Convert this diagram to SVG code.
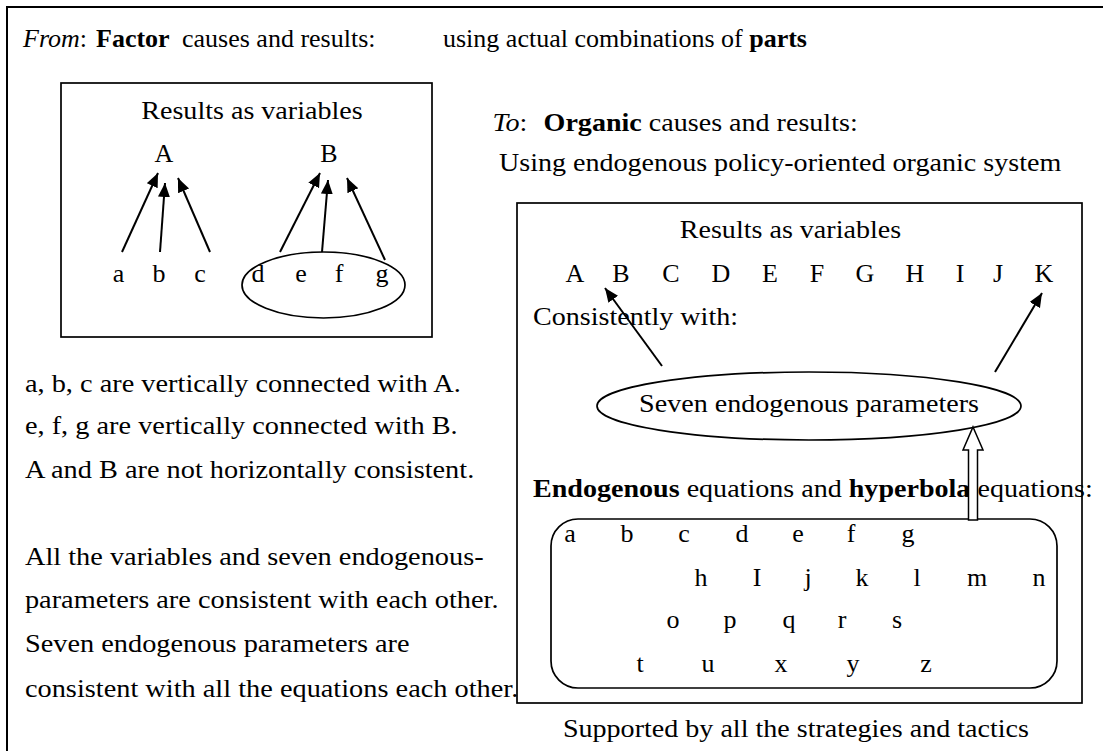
<svg xmlns="http://www.w3.org/2000/svg" width="1103" height="751" viewBox="0 0 1103 751">
<style>
text{font-family:"Liberation Serif","Times New Roman",serif;font-size:26px;fill:#000;white-space:pre}
.s{transform:scale(1.08,1)}
.s9{transform:scale(1.09,1)}
.m{text-anchor:middle}
.b{font-weight:bold}
.i{font-style:italic}
.box{fill:none;stroke:#000;stroke-width:1.7}
.ln{fill:none;stroke:#000;stroke-width:2}
</style>
<defs>
<marker id="ah" markerUnits="userSpaceOnUse" markerWidth="15" markerHeight="13" refX="14" refY="6" orient="auto"><path d="M0,0 L14,6 L0,12 Z" fill="#000"/></marker>
</defs>
<rect width="1103" height="751" fill="#fff"/>
<g id="frame"><path d="M7 751 V7 H1103" fill="none" stroke="#000" stroke-width="2"/></g>
<g id="title"><text y="47"><tspan class="i" x="23">From</tspan>: <tspan class="b" x="96">Factor</tspan><tspan x="182">causes and results:</tspan><tspan x="443">using actual combinations of </tspan><tspan class="b">parts</tspan></text></g>
<g id="factor-box">
<rect class="box" x="61" y="83" width="371" height="254"/>
<text class="s m" x="233.3" y="119">Results as variables</text>
<text class="m" x="164" y="162">A</text>
<text class="m" x="329" y="162">B</text>
<text class="m" x="118.5 159 200 258 301 339 382" y="282">abcdefg</text>
<ellipse class="box" cx="323.5" cy="285" rx="81.5" ry="33"/>
</g>
<g id="left-notes">
<text class="s9" x="22.9" y="392">a, b, c are vertically connected with A.</text>
<text class="s9" x="22.9" y="434">e, f, g are vertically connected with B.</text>
<text class="s9" x="22.9" y="478">A and B are not horizontally consistent.</text>
<text class="s9" x="22.9" y="565">All the variables and seven endogenous-</text>
<text class="s9" x="22.9" y="608">parameters are consistent with each other.</text>
<text class="s9" x="22.9" y="652">Seven endogenous parameters are</text>
<text class="s9" x="22.9" y="697">consistent with all the equations each other.</text>
</g>
<g id="to-header">
<text class="s" y="131"><tspan class="i" x="456">To</tspan>: <tspan class="b" x="503.3">Organic</tspan> causes and results:</text>
<text class="s" x="462" y="171">Using endogenous policy-oriented organic system</text>
</g>
<g id="organic-box">
<rect class="box" x="517" y="203" width="565" height="500"/>
<text class="s m" x="731.9" y="238">Results as variables</text>
<text class="m" x="575 621 671 721 770 817 865 915 960 998 1044" y="282">ABCDEFGHIJK</text>
<text class="s" x="493.5" y="325">Consistently with:</text>
</g>
<g id="parameters">
<ellipse class="box" cx="809" cy="406" rx="212" ry="34"/>
<text class="s m" x="749.1" y="412">Seven endogenous parameters</text>
</g>
<g id="equations">
<text class="s" x="493.5" y="497"><tspan class="b">Endogenous</tspan> equations and <tspan class="b">hyperbola</tspan> equations:</text>
<rect class="box" x="551" y="519" width="506" height="169" rx="27" ry="27"/>
<text class="m" x="570 627 684 742 798 851 908" y="542">abcdefg</text>
<text class="m" x="701 757 808 862 917 977 1039" y="586">hIjklmn</text>
<text class="m" x="673 730 789 842 897" y="628">opqrs</text>
<text class="m" x="640 708 781 853 926" y="672">tuxyz</text>
</g>
<g id="footer"><text class="s m" x="737" y="737">Supported by all the strategies and tactics</text></g>
<g id="connectors">
<line class="ln" x1="122" y1="252" x2="158" y2="173" marker-end="url(#ah)"/>
<line class="ln" x1="160" y1="252" x2="165" y2="183" marker-end="url(#ah)"/>
<line class="ln" x1="210" y1="252" x2="178" y2="178" marker-end="url(#ah)"/>
<line class="ln" x1="280" y1="252" x2="320" y2="173" marker-end="url(#ah)"/>
<line class="ln" x1="322" y1="252" x2="328" y2="180" marker-end="url(#ah)"/>
<line class="ln" x1="385" y1="260" x2="347" y2="178" marker-end="url(#ah)"/>
<line class="ln" x1="662" y1="366" x2="605" y2="288" marker-end="url(#ah)"/>
<line class="ln" x1="995" y1="372" x2="1042" y2="293" marker-end="url(#ah)"/>
<polygon points="973,427 983,450 977.5,450 977.5,520 968.5,520 968.5,450 963,450" fill="#fff" stroke="#000" stroke-width="1.5"/>
</g>
</svg>
